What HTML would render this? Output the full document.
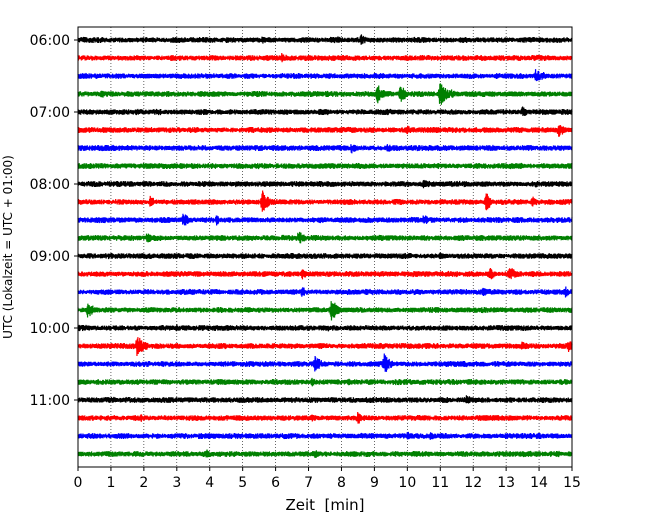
<!DOCTYPE html>
<html><head><meta charset="utf-8"><style>
body{margin:0;background:#fff;}
svg{display:block;font-family:"DejaVu Sans","Liberation Sans",sans-serif;}
</style></head><body>
<svg id="chart" width="650" height="520" viewBox="0 0 650 520">
<rect x="0" y="0" width="650" height="520" fill="#fff"/>
<g id="grid"></g>
<g id="traces"></g>
<rect x="78" y="27" width="494" height="440" fill="none" stroke="#000" stroke-width="1"/>
<g id="xaxis"></g>
<g id="yaxis"></g>
<text x="325" y="510" font-size="15" text-anchor="middle">Zeit&#160; [min]</text>
<text transform="translate(12,247) rotate(-90)" font-size="12" text-anchor="middle">UTC (Lokalzeit = UTC + 01:00)</text>
</svg>
<script>
const xTicks = [0,1,2,3,4,5,6,7,8,9,10,11,12,13,14,15];
const yTickLabels = ["06:00","07:00","08:00","09:00","10:00","11:00"];
const yTickRows = [0,4,8,12,16,20];
const traceCount = 24;
const traceColors = ["#000000","#ff0000","#0000ff","#008000"];
// events: trace index, minute, amplitude (in trace units)
const eventTrace = [0,0,0,1,2,2,3,3,3,3,3,4,5,5,6,6,7,7,8,8,9,9,9,9,10,10,10,11,11,12,13,13,13,14,14,14,15,15,16,16,17,17,17,17,18,18,19,19,20,21,21,21,22,22,22,23,23];
const eventMinute = [5.6,7.9,8.6,6.2,13.9,14.1,0.7,9.1,9.8,11.0,11.3,13.5,10.0,14.6,8.3,9.4,2.2,5.6,10.5,13.9,2.2,5.6,12.4,13.8,3.2,4.2,10.5,2.1,6.7,11.0,6.8,12.5,13.1,6.8,12.3,14.8,0.3,7.7,3.0,7.6,1.8,2.0,13.5,14.9,7.2,9.3,7.1,8.2,11.8,1.9,7.1,8.5,8.6,10.0,10.7,3.9,7.2];
const eventAmp = [4,4,6,6,8,5,5,10,10,14,6,6,5,8,6,5,4,4,5,4,7,12,10,6,8,6,6,6,8,4,6,7,9,6,5,6,10,12,4,4,12,6,6,7,10,11,5,4,6,5,4,7,4,5,5,5,5];

const X0=78,X1=572,Y0=27,Y1=467;
const xs = m => X0 + (m/15)*(X1-X0);
const ys = r => 40 + r*18;
const NS="http://www.w3.org/2000/svg";
function mk(tag,attrs,parent){const e=document.createElementNS(NS,tag);for(const k in attrs)e.setAttribute(k,attrs[k]);parent.appendChild(e);return e;}

const grid=document.getElementById('grid'), xa=document.getElementById('xaxis'), ya=document.getElementById('yaxis'), tr=document.getElementById('traces');
xTicks.forEach(t=>{
  const x=xs(t);
  if(t>0&&t<15){const l=mk('line',{x1:x,x2:x,y1:Y0,y2:Y1,stroke:'#000','stroke-width':0.6,'stroke-dasharray':'1,2'},grid);
  
  }
  const tk=mk('line',{x1:x,x2:x,y1:Y1,y2:Y1+4,stroke:'#000'},xa);
  
  
  const tx=mk('text',{x:x,y:Y1+20,'font-size':14,'text-anchor':'middle'},xa);tx.textContent=t;
  
  
});
yTickRows.forEach((r,i)=>{
  const y=ys(r);
  const tk=mk('line',{x1:X0-4,x2:X0,y1:y,y2:y,stroke:'#000'},ya);
  
  
  const tx=mk('text',{x:X0-8,y:y+5,'font-size':14,'text-anchor':'end'},ya);tx.textContent=yTickLabels[i];
  
  
});
// deterministic texture for background noise
function tex(i,k){const s=Math.sin(i*12.9898+k*78.233)*43758.5453;return (s-Math.floor(s))*2-1;}
for(let r=0;r<traceCount;r++){
  const y=ys(r);
  let d='';
  const N=1600;
  for(let i=0;i<=N;i++){
    const m=15*i/N;
    let a=2.3+0.8*Math.abs(tex(Math.floor(i/30),r));
    for(let e=0;e<eventTrace.length;e++){
      if(eventTrace[e]!==r)continue;
      const dm=m-eventMinute[e];
      if(dm>-0.08&&dm<0.6){
        const env=dm<0?(dm+0.08)/0.08:Math.exp(-dm*5);
        a=Math.max(a,eventAmp[e]*env);
      }
    }
    const v=(i%2?1:-1)*a*(0.3+0.7*Math.abs(tex(i,r+1)));
    d+=(i?'L':'M')+xs(m).toFixed(2)+','+(y+v).toFixed(2);
  }
  const p=mk('path',{d:d,fill:'none',stroke:traceColors[r%4],'stroke-width':1.2},tr);
  
  
}
</script>
</body></html>
